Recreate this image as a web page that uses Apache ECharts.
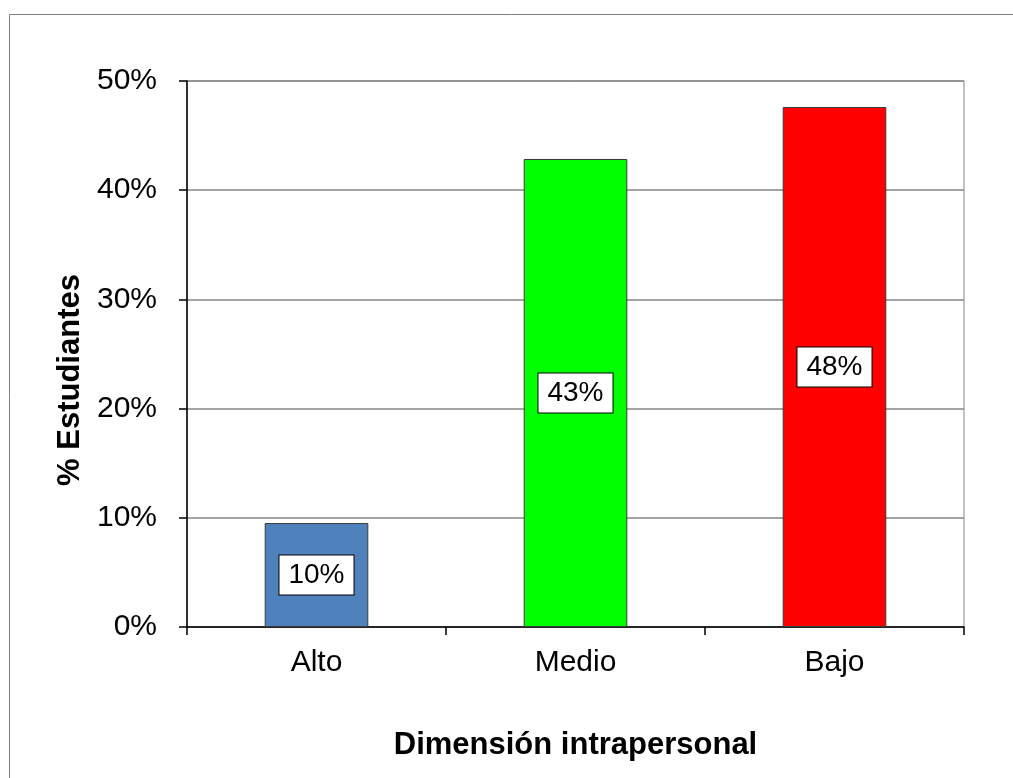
<!DOCTYPE html>
<html>
<head>
<meta charset="utf-8">
<script src="https://cdn.jsdelivr.net/npm/echarts@6/dist/echarts.min.js"></script>
<style>
html,body{margin:0;padding:0;background:#fff;}
#main{width:1013px;height:778px;}
</style>
</head>
<body>
<div id="main"></div>
<script>
var categories = ['Alto', 'Medio', 'Bajo'];
var values = [0.0952, 0.4286, 0.4762];
var barColors = ['#4F81BD', '#00FF00', '#FF0000'];
var yTicks = [0, 0.1, 0.2, 0.3, 0.4, 0.5];
var xTitle = 'Dimensión intrapersonal';
var yTitle = '% Estudiantes';

var FONT = '"Liberation Sans", Arial, sans-serif';
var chart = echarts.init(document.getElementById('main'), null, {renderer: 'canvas'});

var option = {
  backgroundColor: '#ffffff',
  animation: false,
  graphic: [{
    type: 'rect',
    silent: true,
    shape: {x: 9.5, y: 14.5, width: 1020, height: 800},
    style: {fill: 'none', stroke: '#7f7f7f', lineWidth: 1}
  }],
  grid: {
    left: 187, right: 49, top: 81, bottom: 151,
    show: true, borderColor: '#868686', borderWidth: 1, backgroundColor: 'transparent'
  },
  xAxis: {
    type: 'category',
    data: categories,
    boundaryGap: true,
    name: xTitle,
    nameLocation: 'middle',
    nameGap: 103,
    nameTextStyle: {fontFamily: FONT, fontSize: 31, fontWeight: 'bold', color: '#000'},
    axisLine: {lineStyle: {color: '#000', width: 1.5}},
    axisTick: {show: true, alignWithLabel: false, length: 8, lineStyle: {color: '#000', width: 1.5}},
    axisLabel: {fontFamily: FONT, fontSize: 30, color: '#000', margin: 21},
    splitLine: {show: false}
  },
  yAxis: {
    type: 'value',
    min: yTicks[0],
    max: yTicks[yTicks.length - 1],
    interval: 0.1,
    name: yTitle,
    nameLocation: 'middle',
    nameGap: 94,
    nameRotate: 90,
    nameTextStyle: {fontFamily: FONT, fontSize: 31, fontWeight: 'bold', color: '#000', padding: [0, 52, 0, 0]},
    axisLine: {show: true, lineStyle: {color: '#000', width: 1.5}},
    axisTick: {show: true, inside: false, length: 8, lineStyle: {color: '#000', width: 1.5}},
    axisLabel: {
      fontFamily: FONT, fontSize: 30, color: '#000', margin: 30,
      formatter: function (v) { return Math.round(v * 100) + '%'; }
    },
    splitLine: {show: true, lineStyle: {color: '#868686', width: 1.5}}
  },
  series: [{
    type: 'bar',
    barWidth: '40%',
    data: values.map(function (v, i) {
      return {value: v, itemStyle: {color: barColors[i]}};
    }),
    itemStyle: {borderColor: '#3a3a3a', borderWidth: 1},
    label: {
      show: true,
      position: 'inside',
      fontFamily: FONT,
      fontSize: 28,
      color: '#000',
      backgroundColor: '#fff',
      borderColor: '#000',
      borderWidth: 1,
      padding: [6, 9, 5, 9],
      formatter: function (p) { return Math.round(p.value * 100) + '%'; }
    }
  }]
};
chart.setOption(option);
</script>
</body>
</html>
